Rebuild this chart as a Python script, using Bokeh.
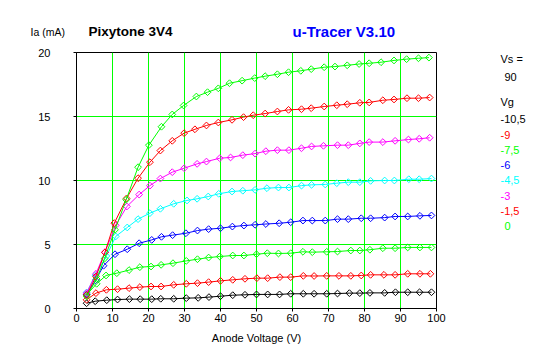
import math
from bokeh.plotting import figure
from bokeh.models import Range1d, FixedTicker
from bokeh.layouts import column, row
from bokeh.core.properties import value
from bokeh.embed import file_html
from bokeh.resources import INLINE

# ---------------- data ----------------
vg_labels = ["-10,5", "-9", "-7,5", "-6", "-4,5", "-3", "-1,5", "0"]
colors = ["#000000", "#FF0000", "#00FF00", "#0000FF", "#00FFFF", "#FF00FF", "#FF0000", "#00FF00"]

va_m105 = [2.8, 5.2, 8.4, 11.4, 14.7, 17.7, 20.9, 23.4, 27.0, 30.5, 33.8, 36.8, 40.0, 43.4, 46.8, 50.0,
           53.1, 56.4, 59.5, 63.0, 66.0, 69.5, 72.5, 75.8, 78.7, 81.5, 85.6, 88.6, 92.0, 95.3, 98.6]
ia_m105 = [0.41, 0.57, 0.65, 0.70, 0.73, 0.73, 0.73, 0.76, 0.76, 0.81, 0.83, 0.89, 0.96, 1.04, 1.07, 1.10,
           1.10, 1.10, 1.15, 1.15, 1.15, 1.15, 1.17, 1.20, 1.20, 1.22, 1.22, 1.27, 1.27, 1.27, 1.27]

va_m9 = [2.8, 5.4, 8.3, 11.4, 14.6, 17.6, 20.7, 23.5, 27.0, 30.5, 33.6, 36.7, 40.0, 43.4, 46.8, 50.1,
         53.1, 56.5, 59.5, 63.0, 66.0, 69.5, 72.9, 76.2, 79.1, 81.7, 85.4, 88.5, 92.0, 95.4, 98.3]
ia_m9 = [0.68, 1.20, 1.46, 1.51, 1.59, 1.67, 1.72, 1.72, 1.85, 1.93, 1.98, 2.06, 2.16, 2.24, 2.32, 2.37,
         2.37, 2.45, 2.45, 2.55, 2.54, 2.55, 2.55, 2.55, 2.58, 2.63, 2.63, 2.63, 2.71, 2.71, 2.71]

va_m75 = [2.8, 5.6, 8.2, 11.2, 14.6, 17.6, 20.7, 23.5, 26.8, 30.5, 33.6, 36.7, 39.8, 43.4, 46.5, 50.0,
          53.0, 56.1, 59.5, 62.9, 65.5, 69.5, 72.5, 76.2, 78.7, 81.5, 85.1, 88.5, 92.0, 95.4, 98.6]
ia_m75 = [1.07, 1.93, 2.58, 2.76, 3.00, 3.23, 3.28, 3.41, 3.54, 3.72, 3.85, 3.98, 4.06, 4.14, 4.14, 4.24,
          4.32, 4.30, 4.32, 4.43, 4.40, 4.43, 4.45, 4.53, 4.53, 4.59, 4.71, 4.71, 4.77, 4.77, 4.77]

va_m6 = [2.8, 5.3, 7.5, 10.7, 14.1, 17.4, 20.9, 23.6, 26.7, 30.4, 33.6, 36.7, 40.0, 43.3, 46.5, 49.6,
         52.6, 56.3, 59.5, 62.9, 65.5, 69.1, 72.5, 75.5, 79.1, 81.7, 85.6, 88.5, 92.0, 95.4, 98.6]
ia_m6 = [1.10, 2.20, 3.34, 4.24, 4.63, 5.10, 5.36, 5.60, 5.73, 5.88, 6.09, 6.20, 6.27, 6.40, 6.48, 6.54,
         6.60, 6.66, 6.74, 6.87, 6.87, 6.87, 6.98, 6.98, 7.05, 7.05, 7.10, 7.19, 7.19, 7.24, 7.27]

va_m45 = [2.8, 5.3, 8.3, 10.9, 14.1, 17.1, 20.4, 23.3, 27.0, 30.7, 33.5, 36.6, 39.5, 43.2, 46.2, 49.6,
          52.9, 56.1, 59.0, 62.5, 65.3, 69.1, 72.3, 75.5, 78.7, 81.7, 85.6, 88.3, 92.3, 95.2, 98.6]
ia_m45 = [1.25, 2.60, 4.10, 5.63, 6.33, 6.98, 7.45, 7.79, 8.18, 8.44, 8.57, 8.75, 8.96, 9.14, 9.20, 9.27,
          9.40, 9.45, 9.45, 9.60, 9.66, 9.69, 9.79, 9.87, 9.87, 9.97, 10.00, 10.00, 10.10, 10.10, 10.15]

va_m3 = [2.8, 5.4, 7.9, 10.9, 14.0, 17.4, 20.4, 23.3, 26.6, 29.9, 33.5, 36.1, 39.8, 42.8, 46.2, 49.6,
         52.6, 55.8, 59.0, 62.5, 65.3, 68.6, 72.5, 75.5, 78.7, 81.3, 85.1, 88.5, 92.2, 95.2, 98.1]
ia_m3 = [1.20, 2.71, 4.40, 6.50, 7.97, 8.90, 9.60, 10.15, 10.65, 10.96, 11.30, 11.48, 11.74, 11.80, 11.98, 12.10,
         12.29, 12.37, 12.37, 12.52, 12.66, 12.71, 12.76, 12.76, 12.90, 13.00, 13.00, 13.10, 13.20, 13.26, 13.34]

va_m15 = [2.8, 5.4, 7.9, 10.5, 13.9, 17.1, 20.4, 23.3, 26.6, 29.9, 32.9, 36.1, 39.4, 43.2, 46.4, 49.1,
          52.4, 55.8, 58.9, 62.5, 65.2, 68.8, 72.3, 75.2, 78.7, 81.3, 85.1, 88.2, 91.8, 95.0, 98.1]
ia_m15 = [1.05, 2.50, 4.38, 6.67, 8.60, 10.18, 11.43, 12.34, 13.10, 13.70, 14.00, 14.30, 14.53, 14.74, 14.95, 15.10,
          15.23, 15.39, 15.52, 15.57, 15.65, 15.78, 15.88, 15.96, 16.07, 16.10, 16.27, 16.33, 16.43, 16.43, 16.48]

va_0 = [2.8, 5.6, 7.8, 10.7, 13.8, 17.1, 20.1, 23.6, 26.6, 29.75, 33.3, 36.4, 39.4, 42.5, 46.0, 49.5,
        52.4, 55.8, 58.9, 62.3, 65.2, 68.8, 71.8, 75.2, 78.5, 81.3, 84.6, 88.2, 91.7, 95.0, 97.9]
ia_0 = [0.95, 2.30, 3.90, 6.15, 8.50, 11.04, 12.76, 14.20, 15.16, 15.86, 16.56, 16.90, 17.20, 17.60, 17.80, 18.00,
        18.15, 18.30, 18.46, 18.57, 18.70, 18.85, 18.90, 19.00, 19.10, 19.16, 19.24, 19.38, 19.48, 19.55, 19.60]

curves_va = [va_m105, va_m9, va_m75, va_m6, va_m45, va_m3, va_m15, va_0]
curves_ia = [ia_m105, ia_m9, ia_m75, ia_m6, ia_m45, ia_m3, ia_m15, ia_0]

x_ticks = [0, 10, 20, 30, 40, 50, 60, 70, 80, 90, 100]
y_ticks = [0, 5, 10, 15, 20]
y_title = "Ia (mA)"
tube_name = "Pixytone 3V4"
tracer_name = "u-Tracer V3.10"
vs_value = "90"

# ---------------- layout sizes ----------------
FONT = "Liberation Sans"
W, H = 547, 357
TOP_H = 44
MAIN_W = 450
MAIN_H = H - TOP_H
RIGHT_W = W - MAIN_W
FR_TOP = 8            # frame top inside the main figure
FR_BOT = 264          # frame bottom inside the main figure


def text_panel(width, height, top=0, bottom=None):
    if bottom is None:
        bottom = height
    f = figure(width=width, height=height, output_backend="svg", toolbar_location=None,
               x_range=Range1d(0, width), y_range=Range1d(bottom, top),
               x_axis_location=None, y_axis_location=None,
               min_border_left=0, min_border_right=0,
               min_border_top=top, min_border_bottom=height - bottom)
    f.grid.visible = False
    f.outline_line_color = None
    f.background_fill_color = "white"
    f.border_fill_color = "white"
    return f


def put(f, txt, x, y, color="black", size="11px", style="normal", font=FONT):
    f.text(x=[x], y=[y], text=[txt], text_color=color, text_font=value(font),
           text_font_size=value(size), text_font_style=style,
           text_align="left", text_baseline="middle")


# ---------------- top strip ----------------
top = text_panel(W, TOP_H)
put(top, y_title, 30, 31, size="10.5px")
put(top, tube_name, 88, 31, size="13.5px", style="bold")
put(top, tracer_name, 292, 31, color="#0000FF", size="15px", style="bold")

# ---------------- main plot ----------------
p = figure(width=MAIN_W, height=MAIN_H, output_backend="svg", toolbar_location=None,
           x_range=Range1d(0, 100), y_range=Range1d(0, 20),
           min_border_left=76, min_border_right=MAIN_W - 436,
           min_border_top=FR_TOP, min_border_bottom=MAIN_H - FR_BOT)
p.background_fill_color = "white"
p.border_fill_color = "white"
p.outline_line_color = "black"
p.outline_line_width = 1
p.outline_line_alpha = 1.0

p.xaxis.ticker = FixedTicker(ticks=x_ticks)
p.yaxis.ticker = FixedTicker(ticks=y_ticks)
p.xgrid.ticker = FixedTicker(ticks=x_ticks[1:-1])
p.ygrid.ticker = FixedTicker(ticks=y_ticks[1:-1])
for g in (p.xgrid, p.ygrid):
    g.grid_line_color = "#00FF00"
    g.grid_line_width = 1
    g.grid_line_alpha = 1.0

for ax in (p.xaxis, p.yaxis):
    ax.axis_line_color = "black"
    ax.major_tick_line_color = "black"
    ax.major_tick_in = 0
    ax.major_tick_out = 3
    ax.minor_tick_line_color = None
    ax.major_label_text_font = FONT
    ax.major_label_text_font_size = "11px"
    ax.major_label_text_color = "black"
    ax.axis_label_text_font = FONT
    ax.axis_label_text_font_size = "11px"
    ax.axis_label_text_font_style = "normal"
    ax.axis_label_text_color = "black"

p.xaxis.major_label_standoff = 2
p.xaxis.axis_label = "Anode Voltage (V)"
p.xaxis.axis_label_standoff = 7
p.yaxis.major_label_standoff = 23

for va, ia, c in zip(curves_va, curves_ia, colors):
    p.line(va, ia, line_color=c, line_width=1)
    p.scatter(va, ia, marker="square", angle=math.pi / 4, size=4.8,
              fill_color=None, line_color=c, line_width=1)

# ---------------- right strip (Vs / Vg legend) ----------------
# the row aligns this panel's frame with the main frame, so use the same top/bottom
right = text_panel(RIGHT_W, MAIN_H, top=FR_TOP, bottom=FR_BOT)
LX = 500 - MAIN_W
put(right, "Vs =", LX, 58 - TOP_H)
put(right, vs_value, LX + 4, 76 - TOP_H)
put(right, "Vg", LX, 101 - TOP_H)
for i, (lab, c) in enumerate(zip(vg_labels, colors)):
    x = LX + (0 if lab.startswith("-") else 4)
    put(right, lab, x, 118.7 - TOP_H + i * 15.3, color=c)

layout = column(top, row(p, right, spacing=0), spacing=0)
open("out.html", "w").write(file_html(layout, INLINE))
